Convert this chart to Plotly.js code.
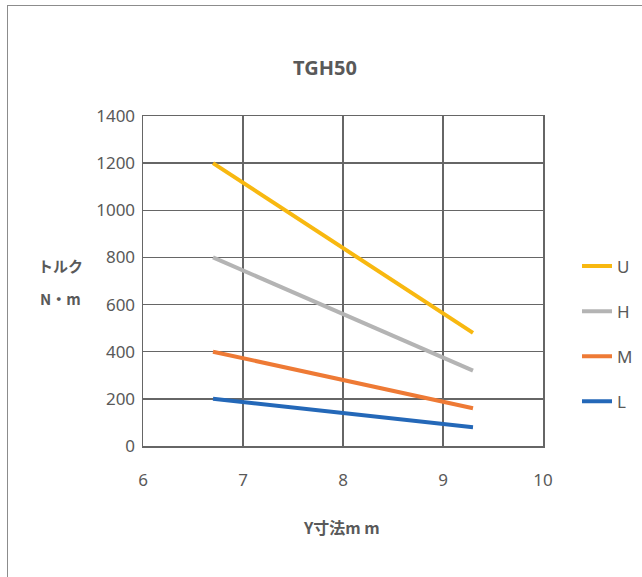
<!DOCTYPE html>
<html><head><meta charset="utf-8">
<script src="https://cdn.plot.ly/plotly-3.0.1.min.js"></script>
<style>
html,body{margin:0;padding:0;background:#fff;}
#wrap{position:relative;width:642px;height:577px;overflow:hidden;}
#frame{position:absolute;left:7px;top:5px;width:700px;height:700px;border-left:1px solid #8c8c8c;border-top:1px solid #8c8c8c;pointer-events:none;}
#chart{position:absolute;left:0;top:0;width:642px;height:577px;}
</style></head>
<body><div id="wrap"><div id="chart"></div><div id="frame"></div></div>
<script>
const seriesNames = ["U","H","M","L"];
const xValues = [6.7, 9.3];
const uValues = [1200, 480];
const hValues = [800, 320];
const mValues = [400, 160];
const lValues = [200, 80];
const colors = ["#F8B810","#B4B4B4","#EE7A35","#2468B8"];
const yAll = [uValues,hValues,mValues,lValues];
const traces = seriesNames.map((n,i)=>({
  x: xValues, y: yAll[i], name: n, mode: "lines", type: "scatter",
  legendgroup: n,
  line: {color: colors[i], width: 4}
}));
const gridC = "#666666";
const layout = {
  width: 642, height: 577,
  margin: {l:143, r:99, t:116, b:131, autoexpand: false},
  paper_bgcolor: "#fff", plot_bgcolor: "#fff",
  font: {family: "Noto Sans, sans-serif", color: "#595959", size: 17},
  title: {text: "<b>TGH50</b>", x: 325/642, xref: "container", xanchor: "center", y: 1-68/577, yanchor: "middle", font: {size: 20, color: "#595959", family:"Noto Sans, sans-serif"}},
  xaxis: {range: [6,10], dtick: 1, showgrid: true, gridcolor: gridC, gridwidth: 1.5,
    showline: true, linecolor: gridC, linewidth: 1.5, mirror: true, zeroline: false,
    ticks: "outside", ticklen: 18, tickcolor: "rgba(0,0,0,0)", fixedrange: true},
  yaxis: {range: [0,1400], dtick: 200, showgrid: true, gridcolor: gridC, gridwidth: 1.5,
    showline: true, linecolor: gridC, linewidth: 1.5, mirror: true, zeroline: false,
    ticks: "outside", ticklen: 3, tickcolor: "rgba(0,0,0,0)", fixedrange: true},
  showlegend: true,
  legend: {x: 1.085, xanchor: "left", y: 1-(265-116)/330 + 0.05, yanchor: "top",
    font: {size: 17, color: "#595959"}, tracegroupgap: 20, traceorder: "grouped",
    bgcolor: "rgba(0,0,0,0)"},
  annotations: [
    {text: "<b>トルク</b>", xref: "paper", yref: "paper", x: (60-143)/400, y: 1-(265-116)/330, xanchor: "center", yanchor: "middle", showarrow: false, font: {size: 15, color: "#595959", family: "Noto Sans CJK JP, sans-serif"}},
    {text: "<b>N・m</b>", xref: "paper", yref: "paper", x: (60-143)/400, y: 1-(298-116)/330, xanchor: "center", yanchor: "middle", showarrow: false, font: {size: 15, color: "#595959", family: "Noto Sans CJK JP, sans-serif"}},
    {text: "<b>Y寸法m m</b>", xref: "paper", yref: "paper", x: (341-143)/400, y: -(527-446)/330, xanchor: "center", yanchor: "middle", showarrow: false, font: {size: 16, color: "#595959", family: "Noto Sans CJK JP, sans-serif"}}
  ]
};
Plotly.newPlot("chart", traces, layout, {displayModeBar: false, staticPlot: true});
</script></body></html>
